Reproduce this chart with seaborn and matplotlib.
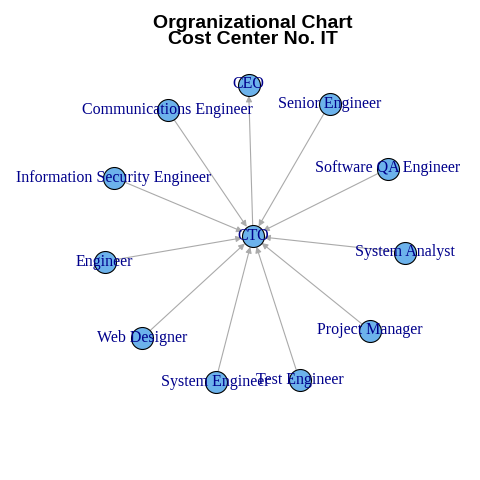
import pandas as pd
import matplotlib
matplotlib.use('Agg')
import matplotlib.pyplot as plt
import seaborn as sns

# node layout (CTO at the centre)
names = ['CTO', 'CEO', 'Senior Engineer', 'Software QA Engineer', 'System Analyst',
         'Project Manager', 'Test Engineer', 'System Engineer', 'Web Designer',
         'Engineer', 'Information Security Engineer', 'Communications Engineer']
xs = [0.0, -0.03, 0.51, 0.90, 1.01, 0.78, 0.31, -0.25, -0.74, -0.99, -0.93, -0.57]
ys = [0.0, 1.01, 0.88, 0.45, -0.11, -0.63, -0.96, -0.97, -0.68, -0.17, 0.39, 0.84]

# edges: source -> target
sources = ['CTO', 'Senior Engineer', 'Software QA Engineer', 'System Analyst', 'Project Manager',
           'Test Engineer', 'System Engineer', 'Web Designer', 'Engineer',
           'Information Security Engineer', 'Communications Engineer']
targets = ['CEO'] + ['CTO'] * 10

nodes = pd.DataFrame({'name': names, 'x': xs, 'y': ys})
pos = {n: (x, y) for n, x, y in zip(names, xs, ys)}

sns.set_style('white')
fig = plt.figure(figsize=(4.8, 4.8), dpi=100)
ax = fig.add_axes([0, 0, 1, 1])

# edges
for s, t in zip(sources, targets):
    ax.annotate('', xy=pos[t], xytext=pos[s],
                arrowprops=dict(arrowstyle='-|>', color='#AAAAAA', lw=0.8,
                                mutation_scale=9, shrinkA=8, shrinkB=8), zorder=1)

# nodes
sns.scatterplot(data=nodes, x='x', y='y', s=250, color='#6CB2EB', edgecolor='black',
                linewidth=0.8, ax=ax, zorder=2, legend=False)

# labels
for n, x, y in zip(names, xs, ys):
    ax.text(x, y, n, ha='center', va='center', color='#00008B',
            family=['Liberation Serif', 'DejaVu Serif'], fontsize=11.5, zorder=3)

ax.set_xlim(-253 / 150, 227 / 150)
ax.set_ylim(-244 / 150, 236 / 150)
ax.axis('off')

fig.text(0.527, 0.934, 'Orgranizational Chart\nCost Center No. IT', ha='center', va='center',
         fontsize=14, fontweight='bold', linespacing=0.95, color='black',
         family=['Liberation Sans', 'DejaVu Sans'])

fig.savefig('out.png', dpi=100)
